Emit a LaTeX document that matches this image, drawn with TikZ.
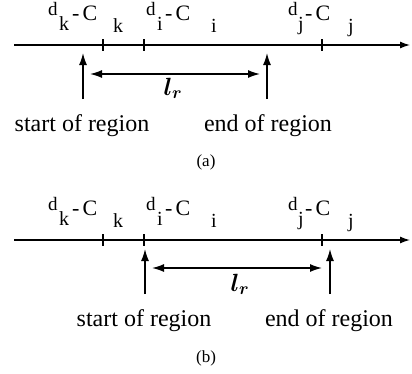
\documentclass[tikz,border=0pt]{standalone}
\usepackage{fontspec}
\setmainfont{Liberation Serif}
\usetikzlibrary{arrows.meta}
\newcommand\dlabel[7]{% #1 name, #2 y offset, #3 x of d, #4 x of sub, #5 x of "- C", #6 x of second sub, #7 sub
  \node[dchar] (#1d) at (#3,#2+15) {d};
  \node[dl] (#1s) at (#4,#2+30) {#7};
  \node[cl] (#1c) at (#5,#2+20) {-\hspace{3pt}C};
  \node[dl] (#1t) at (#6,#2+32) {#7};
}
\begin{document}
\begin{tikzpicture}[x=1pt,y=-1pt,
  axis/.style={line width=1.3pt,-{Latex[length=10pt,width=7pt]}},
  tickmark/.style={line width=1.3pt},
  up/.style={line width=1.4pt,-{Latex[length=12pt,width=8pt]}},
  span/.style={line width=1.4pt,{Latex[length=12pt,width=8pt]}-{Latex[length=12pt,width=8pt]}},
  txt/.style={font=\fontsize{24}{24}\selectfont,inner sep=0pt,anchor=base},
  captext/.style={font=\fontsize{17}{17}\selectfont,inner sep=0pt,anchor=base},
  dchar/.style={font=\fontsize{19}{19}\selectfont,inner sep=0pt,anchor=base west},
  dl/.style={font=\fontsize{20}{20}\selectfont,inner sep=0pt,anchor=base west},
  cl/.style={font=\fontsize{22}{22}\selectfont,inner sep=0pt,anchor=base west},
  lr/.style={font=\fontsize{24}{24}\selectfont\boldmath,inner sep=0pt,anchor=base}]
\useasboundingbox (0,0) rectangle (412,373);

% ---------- panel (a) ----------
\coordinate (a0) at (14,45);
\coordinate (a1) at (410,45);
\draw[axis] (a0) -- (a1);
\foreach \t/\x in {k/103,i/144,j/322}{
  \coordinate (at\t1) at (\x,39);
  \coordinate (at\t2) at (\x,51);
  \draw[tickmark] (at\t1) -- (at\t2);
}
\dlabel{ak}{0}{48}{59}{72}{113}{k}
\dlabel{ai}{0}{146}{157}{165}{211}{i}
\dlabel{aj}{0}{288}{298}{305}{348}{j}

\coordinate (asb) at (83,99);
\coordinate (ast) at (83,53);
\coordinate (aeb) at (267,99);
\coordinate (aet) at (267,53);
\draw[up] (asb) -- (ast);
\draw[up] (aeb) -- (aet);
\coordinate (al) at (90,74);
\coordinate (ar) at (260,74);
\draw[span] (al) -- (ar);
\node[lr] (alr) at (173,95) {$l_r$};
\node[txt] (astart) at (82,131) {start of region};
\node[txt] (aend) at (268,131) {end of region};
\node[captext] (capa) at (206,166) {(a)};

% ---------- panel (b) ----------
\coordinate (b0) at (14,240);
\coordinate (b1) at (410,240);
\draw[axis] (b0) -- (b1);
\foreach \t/\x in {k/103,i/144,j/322}{
  \coordinate (bt\t1) at (\x,234);
  \coordinate (bt\t2) at (\x,246);
  \draw[tickmark] (bt\t1) -- (bt\t2);
}
\dlabel{bk}{195}{48}{59}{72}{113}{k}
\dlabel{bi}{195}{146}{157}{165}{211}{i}
\dlabel{bj}{195}{288}{298}{305}{348}{j}

\coordinate (bsb) at (145,294);
\coordinate (bst) at (145,249);
\coordinate (beb) at (330,294);
\coordinate (bet) at (330,249);
\draw[up] (bsb) -- (bst);
\draw[up] (beb) -- (bet);
\coordinate (bl) at (152,268);
\coordinate (br) at (322,268);
\draw[span] (bl) -- (br);
\node[lr] (blr) at (240,291) {$l_r$};
\node[txt] (bstart) at (144,326) {start of region};
\node[txt] (bend) at (329,326) {end of region};
\node[captext] (capb) at (206,362) {(b)};
\end{tikzpicture}
\end{document}
